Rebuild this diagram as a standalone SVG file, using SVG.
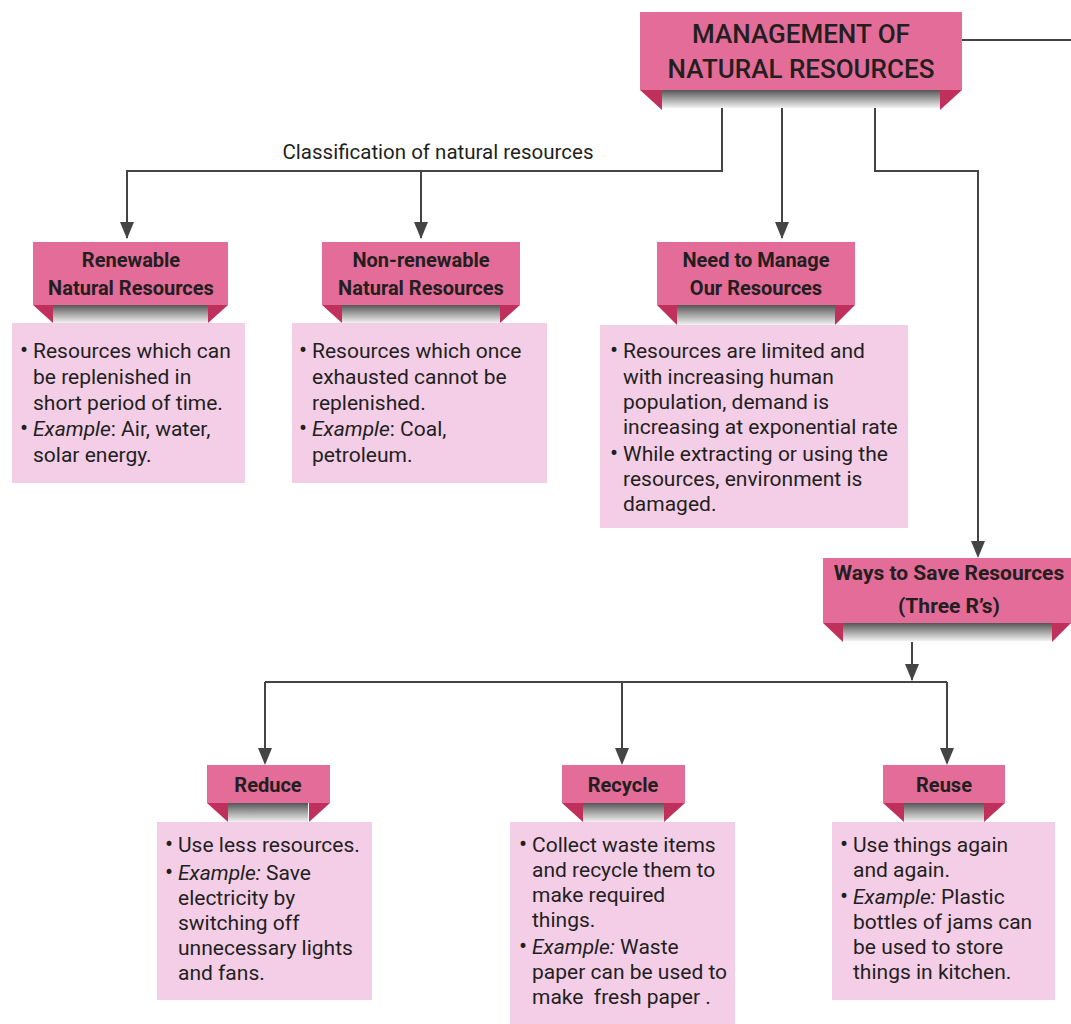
<svg xmlns="http://www.w3.org/2000/svg" width="1071" height="1024" viewBox="0 0 1071 1024">
<style>
.hd{fill:#e36c98}
.fold{fill:#c0305d}
.strip{fill:url(#sg)}
.body{fill:#f4cde7}
.ht{font-family:Roboto,"Liberation Sans",sans-serif;font-weight:700;font-size:20px;fill:#231f20;text-anchor:middle}
.tt{font-family:Roboto,"Liberation Sans",sans-serif;font-weight:500;font-size:26px;fill:#231f20;text-anchor:middle}
.bt{font-family:Roboto,"Liberation Sans",sans-serif;font-size:21px;fill:#231f20}
.bl{font-family:Roboto,"Liberation Sans",sans-serif;font-size:24px;fill:#231f20}
.lbl{font-family:Roboto,"Liberation Sans",sans-serif;font-size:20.5px;fill:#231f20;text-anchor:middle}
.c{fill:none;stroke:#444;stroke-width:2}
.it{font-style:italic}
</style>
<defs>
<linearGradient id="sg" x1="0" y1="0" x2="0" y2="1">
<stop offset="0" stop-color="#555"/>
<stop offset="0.5" stop-color="#a5a5a5"/>
<stop offset="1" stop-color="#f2f2f2"/>
</linearGradient>
</defs>
<rect width="1071" height="1024" fill="#fff"/>

<g id="connectors">
<path class="c" d="M962,40 H1071" stroke="#777"/>
<path class="c" d="M722,108 V171 H127 V238"/>
<path class="c" d="M421,171 V238"/>
<path class="c" d="M782,108 V238"/>
<path class="c" d="M875,108 V171 H978 V556"/>
<path class="c" d="M912,642 V680"/>
<path class="c" d="M265,682 H947"/>
<path class="c" d="M265,682 V763"/>
<path class="c" d="M622,682 V763"/>
<path class="c" d="M947,682 V763"/>
<g fill="#444">
<path d="M120,222 L134,222 L127,239 Z"/>
<path d="M414,222 L428,222 L421,239 Z"/>
<path d="M775,222 L789,222 L782,239 Z"/>
<path d="M971,541 L985,541 L978,558 Z"/>
<path d="M905,664 L919,664 L912,681 Z"/>
<path d="M258,748 L272,748 L265,765 Z"/>
<path d="M615,748 L629,748 L622,765 Z"/>
<path d="M940,748 L954,748 L947,765 Z"/>
</g>
<text class="lbl" x="438" y="159">Classification of natural resources</text>
</g>

<g id="management">
<rect class="strip" x="662" y="90" width="278" height="18"/>
<rect class="hd" x="640" y="12" width="322" height="78"/>
<path class="fold" d="M640,90 H662 V110 Z"/>
<path class="fold" d="M962,90 H940 V110 Z"/>
<text class="tt" x="801" y="43">MANAGEMENT OF</text>
<text class="tt" x="801" y="78">NATURAL RESOURCES</text>
</g>

<g id="renewable">
<rect class="body" x="12" y="323" width="233" height="160"/>
<rect class="strip" x="53" y="305" width="155" height="18"/>
<rect class="hd" x="33" y="242" width="195" height="63"/>
<path class="fold" d="M33,305 H53 V323 Z"/>
<path class="fold" d="M228,305 H208 V323 Z"/>
<text class="ht" x="131" y="267">Renewable</text>
<text class="ht" x="131" y="295">Natural Resources</text>
<text class="bl" x="20" y="358">•</text>
<text class="bl" x="20" y="436">•</text>
<text class="bt"><tspan x="33" y="358">Resources which can</tspan><tspan x="33" y="384">be replenished in</tspan><tspan x="33" y="410">short period of time.</tspan><tspan x="33" y="436"><tspan class="it">Example</tspan>: Air, water,</tspan><tspan x="33" y="462">solar energy.</tspan></text>
</g>

<g id="nonrenewable">
<rect class="body" x="292" y="323" width="255" height="160"/>
<rect class="strip" x="342" y="305" width="158" height="18"/>
<rect class="hd" x="322" y="242" width="198" height="63"/>
<path class="fold" d="M322,305 H342 V323 Z"/>
<path class="fold" d="M520,305 H500 V323 Z"/>
<text class="ht" x="421" y="267">Non-renewable</text>
<text class="ht" x="421" y="295">Natural Resources</text>
<text class="bl" x="299" y="358">•</text>
<text class="bl" x="299" y="436">•</text>
<text class="bt"><tspan x="312" y="358">Resources which once</tspan><tspan x="312" y="384">exhausted cannot be</tspan><tspan x="312" y="410">replenished.</tspan><tspan x="312" y="436"><tspan class="it">Example</tspan>: Coal,</tspan><tspan x="312" y="462">petroleum.</tspan></text>
</g>

<g id="need">
<rect class="body" x="600" y="325" width="308" height="203"/>
<rect class="strip" x="677" y="305" width="158" height="20"/>
<rect class="hd" x="657" y="242" width="198" height="63"/>
<path class="fold" d="M657,305 H677 V325 Z"/>
<path class="fold" d="M855,305 H835 V325 Z"/>
<text class="ht" x="756" y="267">Need to Manage</text>
<text class="ht" x="756" y="295">Our Resources</text>
<text class="bl" x="610" y="358">•</text>
<text class="bl" x="610" y="461">•</text>
<text class="bt"><tspan x="623" y="358">Resources are limited and</tspan><tspan x="623" y="384">with increasing human</tspan><tspan x="623" y="409">population, demand is</tspan><tspan x="623" y="434">increasing at exponential rate</tspan><tspan x="623" y="461">While extracting or using the</tspan><tspan x="623" y="486">resources, environment is</tspan><tspan x="623" y="511">damaged.</tspan></text>
</g>

<g id="ways">
<rect class="strip" x="843" y="623" width="209" height="18"/>
<rect class="hd" x="823" y="558" width="248" height="65"/>
<path class="fold" d="M823,623 H843 V642 Z"/>
<path class="fold" d="M1071,623 H1052 V642 Z"/>
<text class="ht" x="949" y="580" style="font-size:21px">Ways to Save Resources</text>
<text class="ht" x="949" y="613" style="font-size:21px">(Three R’s)</text>
</g>

<g id="reduce">
<rect class="body" x="157" y="822" width="215" height="178"/>
<rect class="strip" x="228" y="803" width="80" height="19"/>
<rect class="hd" x="207" y="765" width="123" height="38"/>
<path class="fold" d="M207,803 H228 V822 Z"/>
<path class="fold" d="M330,803 H309 V822 Z"/>
<text class="ht" x="268" y="792">Reduce</text>
<text class="bl" x="165" y="852">•</text>
<text class="bl" x="165" y="880">•</text>
<text class="bt"><tspan x="178" y="852">Use less resources.</tspan><tspan x="178" y="880"><tspan class="it">Example:</tspan> Save</tspan><tspan x="178" y="905">electricity by</tspan><tspan x="178" y="930">switching off</tspan><tspan x="178" y="955">unnecessary lights</tspan><tspan x="178" y="980">and fans.</tspan></text>
</g>

<g id="recycle">
<rect class="body" x="510" y="822" width="225" height="202"/>
<rect class="strip" x="583" y="803" width="81" height="19"/>
<rect class="hd" x="562" y="765" width="123" height="38"/>
<path class="fold" d="M562,803 H583 V822 Z"/>
<path class="fold" d="M685,803 H664 V822 Z"/>
<text class="ht" x="623" y="792">Recycle</text>
<text class="bl" x="519" y="852">•</text>
<text class="bl" x="519" y="954">•</text>
<text class="bt"><tspan x="532" y="852">Collect waste items</tspan><tspan x="532" y="877">and recycle them to</tspan><tspan x="532" y="902">make required</tspan><tspan x="532" y="927">things.</tspan><tspan x="532" y="954"><tspan class="it">Example:</tspan> Waste</tspan><tspan x="532" y="979">paper can be used to</tspan><tspan x="532" y="1004">make&#160; fresh paper .</tspan></text>
</g>

<g id="reuse">
<rect class="body" x="832" y="822" width="223" height="178"/>
<rect class="strip" x="904" y="803" width="80" height="19"/>
<rect class="hd" x="883" y="765" width="122" height="38"/>
<path class="fold" d="M883,803 H904 V822 Z"/>
<path class="fold" d="M1005,803 H984 V822 Z"/>
<text class="ht" x="944" y="792">Reuse</text>
<text class="bl" x="840" y="852">•</text>
<text class="bl" x="840" y="904">•</text>
<text class="bt"><tspan x="853" y="852">Use things again</tspan><tspan x="853" y="877">and again.</tspan><tspan x="853" y="904"><tspan class="it">Example:</tspan> Plastic</tspan><tspan x="853" y="929">bottles of jams can</tspan><tspan x="853" y="954">be used to store</tspan><tspan x="853" y="979">things in kitchen.</tspan></text>
</g>
</svg>
